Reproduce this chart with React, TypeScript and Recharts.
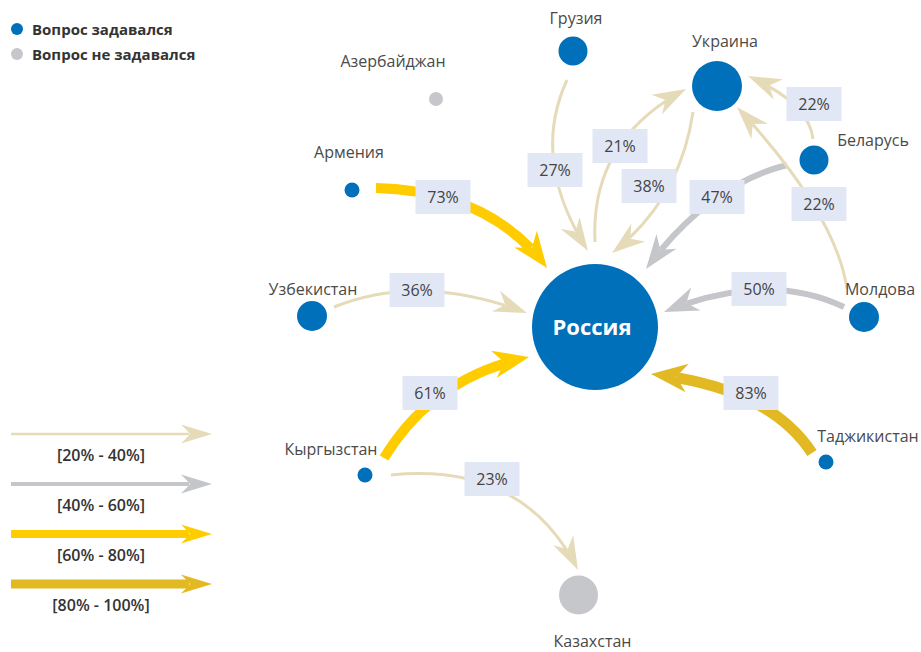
import React from 'react'
import { ScatterChart, Scatter, XAxis, YAxis } from 'recharts'

const W = 921
const H = 652

// countries, and whether the question was asked there
const countries = ['Россия', 'Украина', 'Грузия', 'Азербайджан', 'Армения', 'Беларусь', 'Узбекистан', 'Молдова', 'Кыргызстан', 'Таджикистан', 'Казахстан']
const asked = [true, true, true, false, true, true, true, true, true, true, false]

// flows: from -> to, share in %
const flowFrom = ['Грузия', 'Россия', 'Украина', 'Беларусь', 'Беларусь', 'Молдова', 'Молдова', 'Армения', 'Узбекистан', 'Кыргызстан', 'Таджикистан', 'Кыргызстан']
const flowTo = ['Россия', 'Украина', 'Россия', 'Россия', 'Украина', 'Украина', 'Россия', 'Россия', 'Россия', 'Россия', 'Россия', 'Казахстан']
const flowPct = [27, 21, 38, 47, 22, 22, 50, 73, 36, 61, 83, 23]

// legend buckets
const bucketLabels = ['[20% - 40%]', '[40% - 60%]', '[60% - 80%]', '[80% - 100%]']
const legendAsked = ['Вопрос задавался', 'Вопрос не задавался']

// ---- layout (plot space == 921x652 pixels) ----
const nodeLayout: Record<string, { x: number; y: number; r: number; lx: number; ly: number }> = {
  'Россия': { x: 595, y: 327, r: 63, lx: 0, ly: 0 },
  'Украина': { x: 717, y: 86, r: 25, lx: 8, ly: -44 },
  'Грузия': { x: 573, y: 51, r: 14.5, lx: 3, ly: -32 },
  'Азербайджан': { x: 436, y: 99, r: 7, lx: -43, ly: -37 },
  'Армения': { x: 352, y: 190, r: 7.5, lx: -3, ly: -37 },
  'Беларусь': { x: 814, y: 160, r: 14.5, lx: 59, ly: -19 },
  'Узбекистан': { x: 312, y: 316, r: 15, lx: 1, ly: -26 },
  'Молдова': { x: 864, y: 317, r: 15, lx: 16, ly: -27 },
  'Кыргызстан': { x: 365, y: 475, r: 7.5, lx: -34, ly: -25 },
  'Таджикистан': { x: 826, y: 462, r: 7.5, lx: 42, ly: -25 },
  'Казахстан': { x: 578.5, y: 595, r: 19.5, lx: 14, ly: 47 },
}

// start, control, end (tip) and label box centre of each arrow
const flowLayout = [
  { s: [567, 80], c: [530, 160], e: [588, 251], l: [555, 170] },
  { s: [595, 242], c: [590, 140], e: [686, 89], l: [620, 146] },
  { s: [693, 112], c: [680, 200], e: [612, 253], l: [649, 186] },
  { s: [787, 165], c: [708, 185], e: [646, 269], l: [717, 197] },
  { s: [813, 139], c: [809, 103], e: [748, 76], l: [814, 104] },
  { s: [847, 289], c: [836, 214], e: [737, 107], l: [819, 204] },
  { s: [844, 307], c: [767, 270], e: [664, 312], l: [759, 289] },
  { s: [376, 188], c: [490, 191], e: [547, 268], l: [443, 197] },
  { s: [334, 307], c: [420, 272], e: [527, 313], l: [417, 290] },
  { s: [384, 458], c: [433, 377], e: [529, 357], l: [430, 393] },
  { s: [812, 453], c: [769, 387], e: [651, 374], l: [751, 393] },
  { s: [391, 475], c: [524, 462], e: [578, 570], l: [492, 479] },
]

const BLUE = '#0070BA'
const GREY_NODE = '#C6C7CA'
const bucketColors = ['#E6DBB9', '#C5C6CA', '#FFCC00', '#E3B923']
const bucketWidths = [3, 6, 10, 11]
const FONT = '"Open Sans", "DejaVu Sans", sans-serif'

const bucketOf = (p: number) => (p < 40 ? 0 : p < 60 ? 1 : p < 80 ? 2 : 3)

type P = { x: number; y: number }

function Arrow({ p0, c, p2, color, sw, hl, hw }: { p0: P; c: P; p2: P; color: string; sw: number; hl?: number; hw?: number }) {
  const L = hl ?? 32 + sw * 0.4
  const HW = hw ?? 10 + sw * 0.4
  let dx = p2.x - c.x
  let dy = p2.y - c.y
  const len = Math.hypot(dx, dy) || 1
  dx /= len
  dy /= len
  const nx = -dy
  const ny = dx
  const notch = L * 0.7
  const t = Math.max(0.05, 1 - (notch + 1) / (2 * len))
  const q0 = { x: p0.x + t * (c.x - p0.x), y: p0.y + t * (c.y - p0.y) }
  const q1 = { x: c.x + t * (p2.x - c.x), y: c.y + t * (p2.y - c.y) }
  const b = { x: q0.x + t * (q1.x - q0.x), y: q0.y + t * (q1.y - q0.y) }
  const head = [
    [p2.x, p2.y],
    [p2.x - dx * L + nx * HW, p2.y - dy * L + ny * HW],
    [p2.x - dx * notch, p2.y - dy * notch],
    [p2.x - dx * L - nx * HW, p2.y - dy * L - ny * HW],
  ]
    .map((q) => q.join(','))
    .join(' ')
  return (
    <g>
      <path d={`M${p0.x},${p0.y} Q${q0.x},${q0.y} ${b.x},${b.y}`} fill="none" stroke={color} strokeWidth={sw} />
      <polygon points={head} fill={color} />
    </g>
  )
}

function NodeShape(props: any) {
  const { cx, cy, payload } = props
  const fill = payload.asked ? BLUE : GREY_NODE
  if (payload.name === 'Россия') {
    return (
      <g>
        <circle cx={cx} cy={cy} r={payload.r} fill={fill} />
        <text x={cx - 3} y={cy + 8} textAnchor="middle" fill="#fff" fontFamily={FONT} fontWeight={700} fontSize={22}>
          {payload.name}
        </text>
      </g>
    )
  }
  return (
    <g>
      <circle cx={cx} cy={cy} r={payload.r} fill={fill} />
      <text x={cx + payload.lx} y={cy + payload.ly + 5} textAnchor="middle" fill="#4a4a4a" fontFamily={FONT} fontSize={16}>
        {payload.name}
      </text>
    </g>
  )
}

function PctLabel(props: any) {
  const { cx, cy, payload } = props
  return (
    <g>
      <rect x={cx - 27.5} y={cy - 17} width={55} height={34} fill="#E1E7F4" />
      <text x={cx} y={cy + 6} textAnchor="middle" fill="#444" fontFamily={FONT} fontSize={16}>
        {payload.pct}%
      </text>
    </g>
  )
}

const nodes = countries.map((name, i) => ({ name, asked: asked[i], ...nodeLayout[name] }))
const labels = flowPct.map((pct, i) => ({ x: flowLayout[i].l[0], y: flowLayout[i].l[1], pct }))

function LegendArrows() {
  return (
    <svg width={240} height={220} style={{ position: 'absolute', left: 0, top: 410 }}>
      {bucketLabels.map((lab, i) => {
        const y = 24 + i * 50
        return (
          <g key={lab}>
            <Arrow p0={{ x: 11, y }} c={{ x: 110, y }} p2={{ x: 212, y }} color={bucketColors[i]} sw={[2.5, 4, 8, 9][i]} hl={31} hw={9.5} />
            <text x={101} y={y + 27} textAnchor="middle" fill="#333" fontFamily={FONT} fontWeight={600} fontSize={16}>
              {lab}
            </text>
          </g>
        )
      })}
    </svg>
  )
}

export default function App() {
  return (
    <div style={{ position: 'absolute', left: 0, top: 0, width: W, height: H, background: '#fff' }}>
      <ScatterChart width={W} height={H} margin={{ top: 0, right: 0, bottom: 0, left: 0 }}>
        <XAxis type="number" dataKey="x" domain={[0, W]} hide />
        <YAxis type="number" dataKey="y" domain={[0, H]} reversed hide />
        {flowPct.map((pct, i) => {
          const f = flowLayout[i]
          const k = bucketOf(pct)
          const data = [
            { x: f.s[0], y: f.s[1] },
            { x: f.c[0], y: f.c[1] },
            { x: f.e[0], y: f.e[1] },
          ]
          return (
            <Scatter
              key={`${flowFrom[i]}-${flowTo[i]}`}
              name={`${flowFrom[i]} → ${flowTo[i]}`}
              data={data}
              isAnimationActive={false}
              shape={() => <g />}
              line={(lp: any) =>
                lp.points && lp.points.length === 3 ? (
                  <Arrow p0={lp.points[0]} c={lp.points[1]} p2={lp.points[2]} color={bucketColors[k]} sw={bucketWidths[k]} />
                ) : (
                  <g />
                )
              }
            />
          )
        })}
        <Scatter name="labels" data={labels} isAnimationActive={false} shape={PctLabel} />
        <Scatter name="countries" data={nodes} isAnimationActive={false} shape={NodeShape} />
      </ScatterChart>

      <div style={{ position: 'absolute', left: 0, top: 0, fontFamily: FONT, fontWeight: 700, fontSize: 15, color: '#333' }}>
        {legendAsked.map((t, i) => (
          <div key={t} style={{ position: 'absolute', left: 11, top: 19 + i * 25, whiteSpace: 'nowrap', display: 'flex', alignItems: 'center' }}>
            <span style={{ display: 'inline-block', width: 12, height: 12, borderRadius: 6, background: i === 0 ? BLUE : GREY_NODE, marginRight: 9 }} />
            {t}
          </div>
        ))}
      </div>
      <LegendArrows />
    </div>
  )
}
